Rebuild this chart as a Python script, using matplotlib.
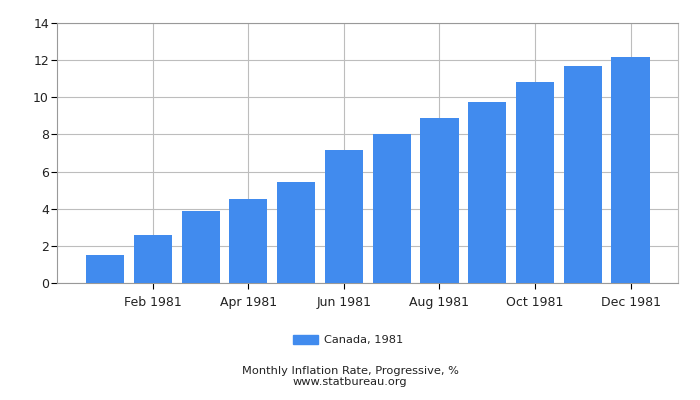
import numpy as np
import matplotlib
matplotlib.use('Agg')
import matplotlib.pyplot as plt
from matplotlib.patches import Patch

months = ['Jan 1981', 'Feb 1981', 'Mar 1981', 'Apr 1981', 'May 1981', 'Jun 1981',
          'Jul 1981', 'Aug 1981', 'Sep 1981', 'Oct 1981', 'Nov 1981', 'Dec 1981']
rates = [1.52, 2.60, 3.88, 4.53, 5.44, 7.16, 8.02, 8.88, 9.74, 10.82, 11.68, 12.16]
series_label = 'Canada, 1981'
yticks = [0, 2, 4, 6, 8, 10, 12, 14]

bar_color = '#418bee'
grid_color = '#bdbdbd'
text_color = '#222222'

fig = plt.figure(figsize=(7, 4), dpi=100)
ax = fig.add_axes([57.3/700, 1 - 283.3/400, 621/700, (283.3 - 22.7)/400])

x = np.arange(len(months))
ax.bar(x, rates, width=0.8, color=bar_color, zorder=3)

ax.set_xlim(-1, len(months))
ax.set_ylim(0, 14)
ax.set_yticks(yticks)
ax.set_yticklabels([str(t) for t in yticks])
ax.set_xticks(x[1::2])
ax.set_xticklabels(months[1::2])

ax.grid(True, color=grid_color, linewidth=0.8, zorder=0)
ax.tick_params(axis='both', labelsize=9, color='black', labelcolor=text_color,
               length=4, width=0.8, pad=2)
ax.tick_params(axis='x', pad=5)
for side in ['top', 'right']:
    ax.spines[side].set_color(grid_color)
ax.spines['top'].set_color('#999999')
for side in ['left', 'bottom']:
    ax.spines[side].set_color('#999999')
    ax.spines[side].set_linewidth(0.8)

fig.legend(handles=[Patch(color=bar_color, label=series_label)],
           loc='center', bbox_to_anchor=(348/700, 1 - 340/400), frameon=False,
           fontsize=8.2, handlelength=2.2, handleheight=0.9, handletextpad=0.5,
           labelcolor=text_color)

fig.text(0.5, 1 - 371/400, 'Monthly Inflation Rate, Progressive, %',
         ha='center', va='center', fontsize=8.2, color=text_color)
fig.text(0.5, 1 - 382/400, 'www.statbureau.org',
         ha='center', va='center', fontsize=8.2, color=text_color)

fig.savefig('out.png', dpi=100)
